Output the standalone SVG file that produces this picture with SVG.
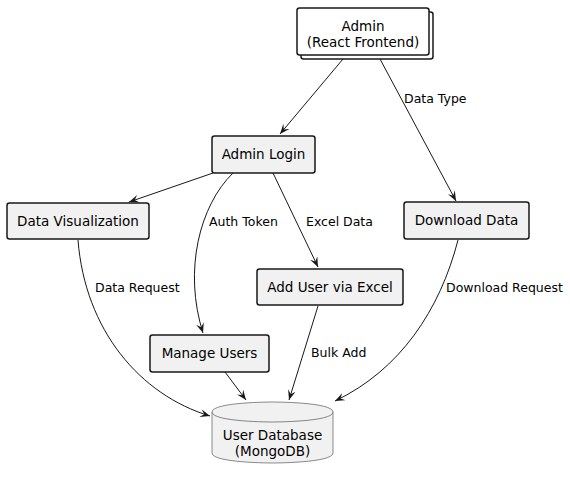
<svg xmlns="http://www.w3.org/2000/svg" width="570" height="479" viewBox="0 0 570 479">
<defs>
<marker id="arr" viewBox="0 0 10 8" refX="10" refY="4" markerWidth="10" markerHeight="8" markerUnits="userSpaceOnUse" orient="auto">
<path d="M0,0 L10,4 L0,8 L4,4 Z" fill="#181818"/>
</marker>
</defs>
<style>
.box{fill:#F1F1F1;stroke:#181818;stroke-width:1.5}
.wbox{fill:#FFFFFF;stroke:#181818;stroke-width:1.5}
.db{fill:#F1F1F1;stroke:#181818;stroke-width:0.5}
.t{font-family:"DejaVu Sans",sans-serif;font-size:13.5px;fill:#000;text-anchor:middle}
.l{font-family:"DejaVu Sans",sans-serif;font-size:12.5px;fill:#000}
.e{fill:none;stroke:#181818;stroke-width:1;marker-end:url(#arr)}
</style>
<rect width="570" height="479" fill="#FFFFFF"/>
<g id="connectors">
<path class="e" d="M343,59 L280,134"/>
<path class="e" d="M380,59 L456,201"/>
<path class="e" d="M213,173 L129,202"/>
<path class="e" d="M233,173 C200,205 183,270 203,333"/>
<path class="e" d="M273,173 L318,267"/>
<path class="e" d="M78,240 C85,330 140,395 210,416"/>
<path class="e" d="M318,306 L289,400"/>
<path class="e" d="M225,372 L246,400"/>
<path class="e" d="M458,240 C440,310 400,370 335,401"/>
<text class="l" x="404" y="103">Data Type</text>
<text class="l" x="209" y="226">Auth Token</text>
<text class="l" x="306" y="226">Excel Data</text>
<text class="l" x="95" y="292">Data Request</text>
<text class="l" x="446" y="292">Download Request</text>
<text class="l" x="311" y="357">Bulk Add</text>
</g>
<g id="admin">
<rect class="wbox" x="301" y="12" width="132" height="47" rx="2.5"/>
<rect class="wbox" x="297" y="8" width="132" height="47" rx="2.5"/>
<text class="t" x="363" y="31">Admin</text>
<text class="t" x="363" y="47">(React Frontend)</text>
</g>
<g id="admin-login">
<rect class="box" x="212" y="136" width="103" height="37" rx="2.5"/>
<text class="t" x="263.5" y="159">Admin Login</text>
</g>
<g id="data-visualization">
<rect class="box" x="7" y="203" width="142" height="36" rx="2.5"/>
<text class="t" x="78" y="225.5">Data Visualization</text>
</g>
<g id="download-data">
<rect class="box" x="404" y="202" width="125" height="37" rx="2.5"/>
<text class="t" x="466.5" y="225">Download Data</text>
</g>
<g id="add-user-excel">
<rect class="box" x="257" y="269" width="146" height="36" rx="2.5"/>
<text class="t" x="330" y="291.5">Add User via Excel</text>
</g>
<g id="manage-users">
<rect class="box" x="150" y="335" width="119" height="37" rx="2.5"/>
<text class="t" x="209.5" y="358">Manage Users</text>
</g>
<g id="user-database">
<path class="db" d="M212,412 C212,402 272.5,402 272.5,402 C272.5,402 333,402 333,412 L333,453 C333,463 272.5,463 272.5,463 C272.5,463 212,463 212,453 Z"/>
<path class="db" d="M212,412 C212,422 272.5,422 272.5,422 C272.5,422 333,422 333,412" fill="none"/>
<text class="t" x="272.5" y="440">User Database</text>
<text class="t" x="272.5" y="456">(MongoDB)</text>
</g>
</svg>
